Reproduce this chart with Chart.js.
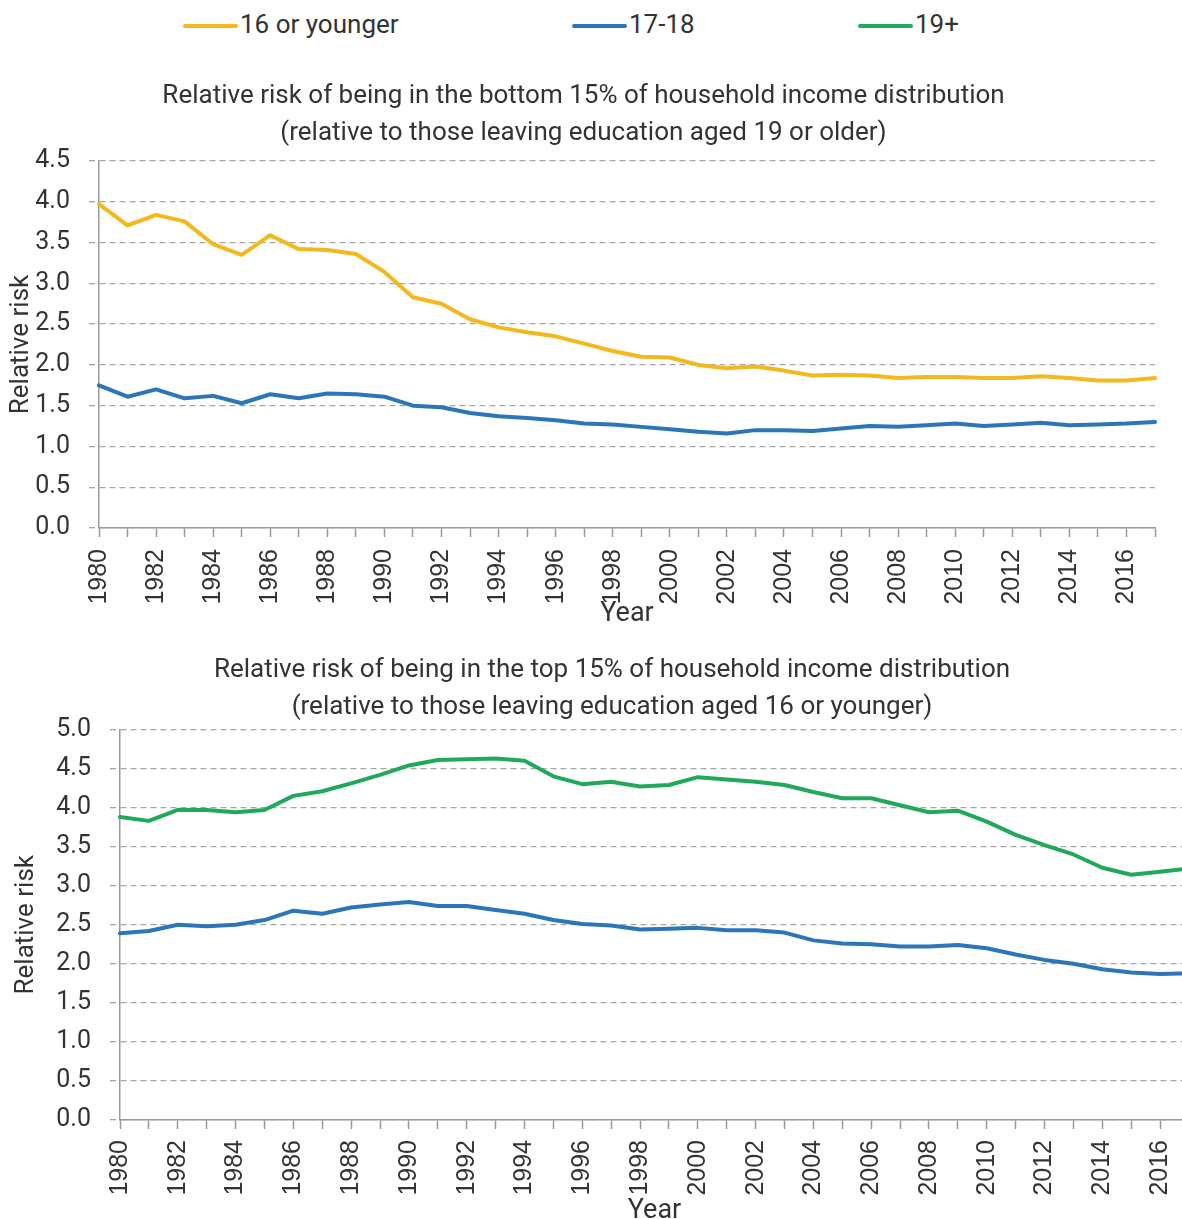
<!DOCTYPE html>
<html>
<head>
<meta charset="utf-8">
<script src="https://cdn.jsdelivr.net/npm/chart.js@4.4.1/dist/chart.umd.min.js"></script>
<style>
  html, body { margin: 0; padding: 0; background: #fff; overflow: hidden; }
  #page { position: relative; width: 1182px; height: 1219px; overflow: hidden; }
  #legend { position: absolute; top: 0; left: 0; width: 1182px; height: 50px; font-family: Roboto, sans-serif; font-size: 26px; color: #333; }
  .item { position: absolute; top: 9px; height: 30px; line-height: 30px; white-space: nowrap; }
  .item i { display: inline-block; width: 55px; height: 4px; border-radius: 2px; vertical-align: middle; margin-right: 2px; }
  #c1 { position: absolute; top: 50px; left: 0; }
  #c2 { position: absolute; top: 640px; left: 0; }
</style>
</head>
<body>
<div id="page">
  <div id="legend"></div>
  <canvas id="c1" width="1182" height="590"></canvas>
  <canvas id="c2" width="1220" height="600"></canvas>
</div>
<script>
// categories
const years = ['1980','1981','1982','1983','1984','1985','1986','1987','1988','1989',
               '1990','1991','1992','1993','1994','1995','1996','1997','1998','1999',
               '2000','2001','2002','2003','2004','2005','2006','2007','2008','2009',
               '2010','2011','2012','2013','2014','2015','2016','2017'];

// series names + colours (legend)
const seriesNames = ['16 or younger', '17-18', '19+'];
const seriesColors = ['#F5B81C', '#2A76B8', '#21A95B'];

// bottom 15% chart (relative to 19+)
const bottom16 = [3.97, 3.71, 3.84, 3.76, 3.48, 3.35, 3.59, 3.42, 3.41, 3.36,
                  3.14, 2.83, 2.75, 2.56, 2.46, 2.40, 2.35, 2.26, 2.17, 2.10,
                  2.09, 2.00, 1.96, 1.98, 1.93, 1.87, 1.88, 1.87, 1.84, 1.85,
                  1.85, 1.84, 1.84, 1.86, 1.84, 1.81, 1.81, 1.84];
const bottom1718 = [1.75, 1.61, 1.70, 1.59, 1.62, 1.53, 1.64, 1.59, 1.65, 1.64,
                    1.61, 1.50, 1.48, 1.41, 1.37, 1.35, 1.32, 1.28, 1.27, 1.24,
                    1.21, 1.18, 1.16, 1.20, 1.20, 1.19, 1.22, 1.25, 1.24, 1.26,
                    1.28, 1.25, 1.27, 1.29, 1.26, 1.27, 1.28, 1.30];

// top 15% chart (relative to 16 or younger)
const top19 = [3.88, 3.83, 3.97, 3.97, 3.94, 3.97, 4.15, 4.21, 4.31, 4.42,
               4.54, 4.61, 4.62, 4.63, 4.60, 4.40, 4.30, 4.33, 4.27, 4.29,
               4.39, 4.36, 4.33, 4.29, 4.20, 4.12, 4.12, 4.03, 3.94, 3.96,
               3.82, 3.65, 3.52, 3.40, 3.23, 3.14, 3.18, 3.22];
const top1718 = [2.39, 2.42, 2.50, 2.48, 2.50, 2.56, 2.68, 2.64, 2.72, 2.76,
                 2.79, 2.74, 2.74, 2.69, 2.64, 2.56, 2.51, 2.49, 2.44, 2.45,
                 2.46, 2.43, 2.43, 2.40, 2.30, 2.26, 2.25, 2.22, 2.22, 2.24,
                 2.20, 2.12, 2.05, 2.00, 1.93, 1.89, 1.87, 1.88];

const title1 = ['Relative risk of being in the bottom 15% of household income distribution',
                '(relative to those leaving education aged 19 or older)'];
const title2 = ['Relative risk of being in the top 15% of household income distribution',
                '(relative to those leaving education aged 16 or younger)'];

// legend (html)
const legendX = [183, 572, 858];
const legend = document.getElementById('legend');
seriesNames.forEach((name, i) => {
    const d = document.createElement('div');
    d.className = 'item';
    d.style.left = legendX[i] + 'px';
    d.innerHTML = '<i style="background:' + seriesColors[i] + '"></i>' + name;
    legend.appendChild(d);
});

Chart.defaults.font.family = 'Roboto, sans-serif';
Chart.defaults.color = '#333';

function line(label, data, color) {
    return {
        label: label, data: data, borderColor: color, backgroundColor: color,
        borderWidth: 4, pointRadius: 0, tension: 0, fill: false,
        borderJoinStyle: 'round', borderCapStyle: 'round'
    };
}

function makeChart(id, cfg) {
    return new Chart(document.getElementById(id), {
        type: 'line',
        data: { labels: years, datasets: cfg.datasets },
        options: {
            responsive: false,
            animation: false,
            events: [],
            layout: { padding: { left: cfg.padL, right: cfg.padR, top: 0, bottom: 0 } },
            plugins: {
                legend: { display: false },
                tooltip: { enabled: false },
                title: {
                    display: true, text: cfg.title, color: '#333',
                    font: { size: 26, lineHeight: 37 / 26, weight: 'normal' },
                    padding: { top: cfg.titleTop, bottom: cfg.titleBottom }
                }
            },
            scales: {
                x: {
                    // fixed height, and no extra side padding for the rotated last label
                    afterFit: s => { s.height = cfg.xHeight; s.paddingRight = 0; s.paddingLeft = 0; },
                    grid: { display: true, drawOnChartArea: false, drawTicks: true, tickLength: 9, tickColor: '#999', tickWidth: 1.5 },
                    border: { display: true, color: '#999', width: 1.5 },
                    ticks: {
                        autoSkip: false, minRotation: 90, maxRotation: 90, padding: cfg.xPad,
                        color: '#333', font: { family: '"Liberation Sans", Arial, sans-serif', size: 25 },
                        callback: function (v, i) { return i % 2 === 0 ? this.getLabelForValue(v) : ''; }
                    },
                    title: { display: true, text: 'Year', color: '#333', font: { size: 27 }, padding: { top: 0, bottom: cfg.yearPad } }
                },
                y: {
                    min: 0, max: cfg.yMax,
                    afterFit: s => { s.width = cfg.yWidth; },
                    grid: { color: '#a6a6a6', lineWidth: 1.3, tickLength: 10, tickColor: '#a6a6a6', tickBorderDash: [6, 4] },
                    border: { display: true, color: '#999', width: 1.5, dash: [6, 4] },
                    ticks: { stepSize: 0.5, padding: 19, color: '#333', font: { size: 25 }, callback: v => v.toFixed(1) },
                    title: { display: true, text: 'Relative risk', color: '#333', font: { size: 26 }, padding: { top: cfg.yTitlePad, bottom: 0 } }
                }
            }
        }
    });
}

makeChart('c1', {
    title: title1,
    datasets: [line(seriesNames[0], bottom16, seriesColors[0]), line(seriesNames[1], bottom1718, seriesColors[1])],
    yMax: 4.5, padL: 12, padR: 27, yWidth: 87, yTitlePad: -6.6,
    titleTop: 27.5, titleBottom: 9.5, xHeight: 112, xPad: 12, yearPad: 9.8
});

makeChart('c2', {
    title: title2,
    datasets: [line(seriesNames[2], top19, seriesColors[2]), line(seriesNames[1], top1718, seriesColors[1])],
    yMax: 5, padL: 35, padR: 31, yWidth: 85, yTitlePad: -24.6,
    titleTop: 12, titleBottom: 3.5, xHeight: 120, xPad: 11, yearPad: 12.8
});
</script>
</body>
</html>
